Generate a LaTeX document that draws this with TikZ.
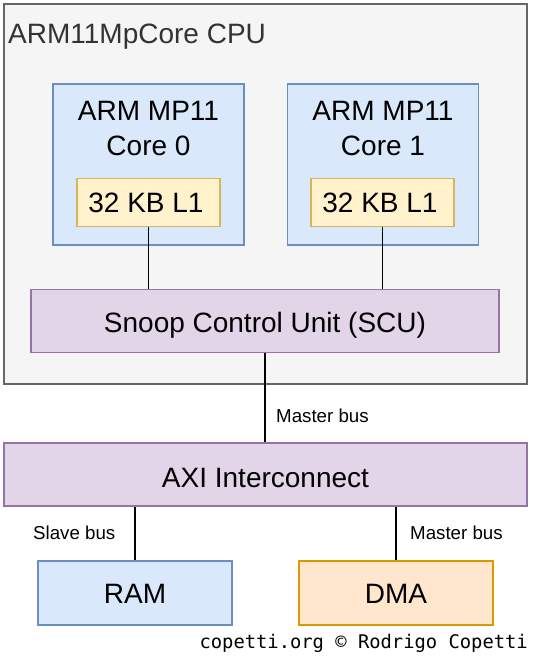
\documentclass[tikz,border=0pt]{standalone}
\usepackage{fontspec}
\setmainfont{Liberation Sans}
\newfontfamily\monofam{DejaVu Sans Mono}
\definecolor{cpufill}{HTML}{F5F5F5}
\definecolor{cpudraw}{HTML}{666666}
\definecolor{cputext}{HTML}{333333}
\definecolor{bluefill}{HTML}{DAE8FC}
\definecolor{bluedraw}{HTML}{6C8EBF}
\definecolor{yelfill}{HTML}{FFF2CC}
\definecolor{yeldraw}{HTML}{D6B656}
\definecolor{purfill}{HTML}{E1D5E7}
\definecolor{purdraw}{HTML}{9673A6}
\definecolor{orafill}{HTML}{FFE6CC}
\definecolor{oradraw}{HTML}{D79B00}
\tikzset{
  box/.style={draw, line width=1.5pt, minimum width=#1, inner sep=0pt},
  cpubox/.style={box=523pt, minimum height=380pt, fill=cpufill, draw=cpudraw},
  corebox/.style={box=191pt, minimum height=161pt, fill=bluefill, draw=bluedraw},
  l1box/.style={box=143pt, minimum height=48pt, fill=yelfill, draw=yeldraw},
  purbox/.style={box=#1, minimum height=63pt, fill=purfill, draw=purdraw},
  rambox/.style={box=194pt, minimum height=64pt, fill=bluefill, draw=bluedraw},
  dmabox/.style={box=194pt, minimum height=64pt, fill=orafill, draw=oradraw},
  bigtext/.style={inner sep=0pt, anchor=base, font=\fontsize{28}{34}\selectfont},
  wire/.style={line width=1.5pt, black},
  buslabel/.style={font=\fontsize{18.7}{22}\selectfont, inner sep=0pt, anchor=base west},
}
\begin{document}
\begin{tikzpicture}[x=1pt,y=-1pt]
\useasboundingbox (0,0) rectangle (534,657);
% CPU container
\node[cpubox] (cpu) at (265.5,194) {};
\node[bigtext, anchor=base west, text=cputext] (cputitle) at (8,43) {ARM11MpCore CPU};
% cores
\node[corebox] (core0) at (148.5,164.5) {};
\node[corebox] (core1) at (383,164.5) {};
\node[bigtext] (c0a) at (148.5,120) {ARM MP11};
\node[bigtext] (c0b) at (148.5,155) {Core 0};
\node[bigtext] (c1a) at (383,120) {ARM MP11};
\node[bigtext] (c1b) at (383,155) {Core 1};
\node[l1box] (l10) at (148.5,202.5) {};
\node[l1box] (l11) at (382.5,202.5) {};
\node[bigtext] (l10t) at (146,212) {32 KB L1};
\node[bigtext] (l11t) at (380,212) {32 KB L1};
% SCU
\node[purbox=468pt] (scu) at (265,321) {};
\node[bigtext] (scut) at (265,332) {Snoop Control Unit (SCU)};
% AXI
\node[purbox=523pt] (axi) at (265.5,474.5) {};
\node[bigtext] (axit) at (265.5,487) {AXI Interconnect};
% RAM, DMA
\node[rambox] (ram) at (135,593) {};
\node[bigtext] (ramt) at (135,603) {RAM};
\node[dmabox] (dma) at (396,593) {};
\node[bigtext] (dmat) at (396,603) {DMA};
% wires
\draw[wire] (l10.south) -- (l10.south |- scu.north);
\draw[wire] (l11.south) -- (l11.south |- scu.north);
\draw[wire] (scu.south) -- (scu.south |- axi.north);
\draw[wire] (ram.north) -- (ram.north |- axi.south);
\draw[wire] (dma.north) -- (dma.north |- axi.south);
% labels
\node[buslabel] (lb1) at (276,422) {Master bus};
\node[buslabel] (lb2) at (33,539) {Slave bus};
\node[buslabel] (lb3) at (410,539) {Master bus};
% copyright
\node[anchor=base east, inner sep=0pt, font=\monofam\fontsize{18.8}{22}\selectfont] (copy) at (528,648) {copetti.org © Rodrigo Copetti};
\end{tikzpicture}
\end{document}
